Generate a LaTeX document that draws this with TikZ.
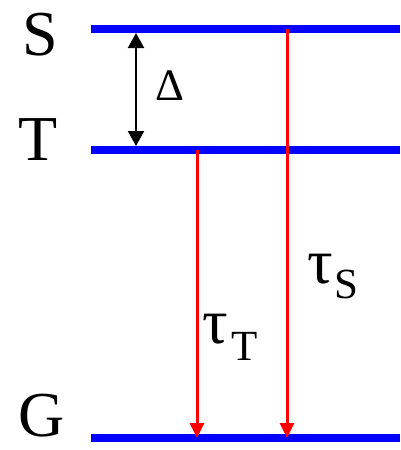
\documentclass[tikz,border=0pt]{standalone}
\usepackage{fontspec}
\setmainfont{Liberation Serif}
\usetikzlibrary{arrows.meta}
\begin{document}
\begin{tikzpicture}[x=1pt,y=-1pt,
  level/.style={draw=blue,line width=7.5pt},
  decay/.style={draw=red,line width=3pt,-{Triangle[length=15pt,width=14pt]}},
  gap/.style={draw=black,line width=2pt,{Triangle[length=15pt,width=16pt]}-{Triangle[length=15pt,width=16pt]}},
  lab/.style={inner sep=0pt,font=\fontsize{64}{64}\selectfont},
  sublab/.style={inner sep=0pt,font=\fontsize{43}{43}\selectfont}]
\useasboundingbox[fill=white] (0,0) rectangle (400,450);
% level lines
\coordinate (Sa) at (91,29);  \coordinate (Sb) at (400,29);
\coordinate (Ta) at (91,150); \coordinate (Tb) at (400,150);
\coordinate (Ga) at (91,438); \coordinate (Gb) at (400,438);
\draw[level] (Sa) -- (Sb);
\draw[level] (Ta) -- (Tb);
\draw[level] (Ga) -- (Gb);
% arrow end points
\coordinate (gtop) at (136,33);  \coordinate (gbot) at (136,146);
\coordinate (ttop) at (197,150); \coordinate (tbot) at (197,438);
\coordinate (stop) at (287,29);  \coordinate (sbot) at (287,438);
\draw[gap] (gtop) -- (gbot);
\draw[decay] (ttop) -- (tbot);
\draw[decay] (stop) -- (sbot);
% level labels
\node[lab,anchor=base] (Slab) at (40,55) {S};
\node[lab,anchor=base] (Tlab) at (38.5,160) {T};
\node[lab,anchor=base] (Glab) at (41.5,436) {G};
% delta
\node[inner sep=0pt,anchor=base,font=\fontsize{45}{45}\selectfont] (D) at (170,100) {Δ};
% tau labels
\node[lab,anchor=base west] (tauS) at (307,283) {τ};
\node[sublab,anchor=base west] (subS) at (334,298) {S};
\node[lab,anchor=base west] (tauT) at (202,343) {τ};
\node[sublab,anchor=base west] (subT) at (231,360) {T};
\end{tikzpicture}
\end{document}
